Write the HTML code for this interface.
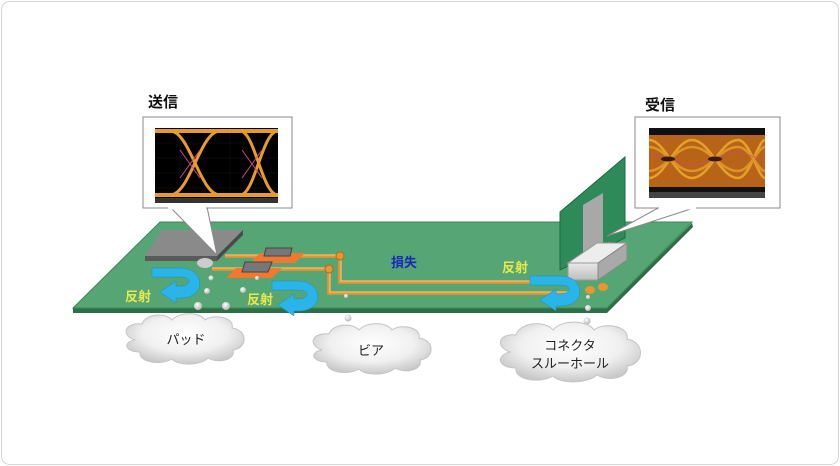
<!DOCTYPE html>
<html><head><meta charset="utf-8"><style>
body{margin:0;background:#fff;}
.wrap{position:relative;width:840px;height:466px;overflow:hidden;font-family:"Liberation Sans","Noto Sans CJK JP",sans-serif;}
</style></head><body><div class="wrap">
<svg width="840" height="466" viewBox="0 0 840 466" xmlns="http://www.w3.org/2000/svg" font-family="Liberation Sans, Noto Sans CJK JP, sans-serif">
<defs>
<radialGradient id="cl" cx="50%" cy="40%" r="60%"><stop offset="0" stop-color="#fff"/><stop offset="0.6" stop-color="#f0f0f0"/><stop offset="1" stop-color="#c8c8c8"/></radialGradient>
<radialGradient id="ball" cx="40%" cy="35%" r="60%"><stop offset="0" stop-color="#fff"/><stop offset="1" stop-color="#bbb"/></radialGradient>
<linearGradient id="blk" x1="0" y1="0" x2="0" y2="1"><stop offset="0" stop-color="#e8e8e8"/><stop offset="1" stop-color="#bdbdbd"/></linearGradient>
</defs>
<rect x="1.5" y="1.5" width="837" height="463" rx="8" fill="#fff" stroke="#d6d6d6"/>
<!-- board -->
<polygon points="73,308 607,308 607,313 73,313" fill="#2f6e46"/>
<polygon points="607,308 692,223 693,227 607,313" fill="#2f6e46"/>
<polygon points="160,222 692,222 607,308 73,308" fill="#55a674" stroke="#3d8a5a" stroke-width="1"/>
<!-- chip -->
<polygon points="162,230 243,230 217,256 145,256" fill="#8a8a8a"/>
<polygon points="145,256 217,256 217,261 145,261" fill="#5a5a5a"/>
<polygon points="217,256 243,230 243,235 217,261" fill="#4a4a4a"/>
<ellipse cx="205" cy="263" rx="8" ry="5" fill="#ccc"/>
<!-- traces -->
<g stroke="#e8962e" stroke-width="3.5" fill="none">
<path d="M225,256 L340,256 L340,282 L575,282"/>
<path d="M212,269 L329,269 L329,293 L575,293"/>
</g>
<g stroke="#f7c27a" stroke-width="1" fill="none">
<path d="M225,255 L340,255 M341,258 L341,281 M340,281 L575,281"/>
<path d="M212,268 L329,268 M330,271 L330,292 M329,292 L575,292"/>
</g>
<circle cx="340" cy="256" r="4" fill="#e8962e" stroke="#b8661a"/>
<circle cx="329" cy="269" r="4" fill="#e8962e" stroke="#b8661a"/>
<!-- SMD parts -->
<polygon points="260,253 305,253 295,263 250,263" fill="#f07830"/>
<polygon points="266,248 292,248 290,256 264,256" fill="#777" stroke="#444"/>
<polygon points="236,268 282,268 272,278 226,278" fill="#f07830"/>
<polygon points="245,262 272,262 268,272 242,272" fill="#777" stroke="#444"/>
<!-- connector card -->
<polygon points="560,212 625,157 625,238 560,270" fill="#2f8a5a" stroke="#1f6a42"/>
<polygon points="583,205 603,193 603,245 583,255" fill="#a8a8a8"/>
<line x1="603" y1="245" x2="603" y2="262" stroke="#e87a2a" stroke-width="2"/>
<line x1="609" y1="242" x2="609" y2="258" stroke="#e87a2a" stroke-width="2"/>
<polygon points="568,263 597,243 627,243 598,263" fill="#ededed" stroke="#999"/>
<polygon points="568,263 598,263 598,280 568,280" fill="url(#blk)" stroke="#999"/>
<polygon points="598,263 627,243 627,260 598,280" fill="#a9a9a9" stroke="#888"/>
<ellipse cx="590" cy="290" rx="5" ry="4" fill="#e8962e"/>
<ellipse cx="603" cy="287" rx="5" ry="4" fill="#e8962e"/>
<!-- blue arrows -->
<g fill="#2ab5ea" stroke="#1a8fc0" stroke-width="0.5">
<path d="M152,268 L180,268 C205,268 207,297 182,298 L176,298 L176,303 L160,292 L176,281 L176,286 L181,286 C192,285 192,277 180,277 L152,277 Z"/>
<path d="M272,281 L298,281 C323,281 325,310 300,311 L294,311 L294,316 L278,305 L294,294 L294,299 L299,299 C310,298 310,290 298,290 L272,290 Z"/>
<path d="M530,276 L560,276 C585,276 587,305 562,306 L556,306 L556,311 L540,300 L556,289 L556,294 L561,294 C572,293 572,285 560,285 L530,285 Z"/>
</g>
<!-- balls -->
<g fill="url(#ball)">
<circle cx="211" cy="278" r="2.5"/><circle cx="207" cy="291" r="3"/><circle cx="198" cy="306" r="4"/><circle cx="226" cy="306" r="4"/>
<circle cx="243" cy="290" r="3"/><circle cx="257" cy="278" r="2"/><circle cx="346" cy="296" r="2"/><circle cx="348" cy="318" r="3.5"/>
<circle cx="588" cy="297" r="2"/><circle cx="588" cy="308" r="3"/><circle cx="587" cy="321" r="3.5"/>
</g>
<!-- clouds -->
<g fill="url(#cl)" stroke="#c4c4c4" stroke-width="1">
<path d="M135,340 C120,335 125,322 142,324 C145,314 165,312 172,320 C180,311 200,312 205,320 C215,313 235,318 232,328 C248,330 248,348 233,350 C236,360 218,364 208,358 C200,366 178,366 172,359 C160,366 138,362 140,352 C125,352 122,342 135,340 Z"/>
<path d="M322,350 C307,345 312,332 329,334 C332,324 352,322 359,330 C367,321 387,322 392,330 C402,323 422,328 419,338 C435,340 435,358 420,360 C423,370 405,374 395,368 C387,376 365,376 359,369 C347,376 325,372 327,362 C312,362 309,352 322,350 Z"/>
<path d="M510,352 C495,347 498,333 516,335 C520,322 545,320 553,330 C562,319 588,320 594,330 C606,321 630,327 627,339 C645,342 645,364 627,366 C630,378 608,382 597,375 C587,384 560,384 553,376 C540,384 514,380 516,368 C498,368 495,356 510,352 Z"/>
</g>
<g font-size="13" fill="#222" text-anchor="middle">
<text x="186" y="344">パッド</text>
<text x="371" y="355">ビア</text>
<text x="570" y="350">コネクタ</text>
<text x="570" y="368">スルーホール</text>
</g>
<!-- labels -->
<g font-size="13" fill="#e8e84a" font-weight="bold">
<text x="125" y="301">反射</text>
<text x="247" y="304">反射</text>
<text x="502" y="272">反射</text>
</g>
<text x="391" y="267" font-size="13" fill="#1a2ab8" font-weight="bold">損失</text>
<text x="148" y="107" font-size="15" font-weight="bold" fill="#111">送信</text>
<text x="645" y="110" font-size="15" font-weight="bold" fill="#111">受信</text>
<!-- callouts -->
<polygon points="170,207 207,207 217,255" fill="#fff" stroke="#888"/>
<rect x="143" y="117" width="149" height="91" fill="#fff" stroke="#888"/>
<rect x="168" y="207.5" width="38" height="2" fill="#fff"/>
<rect x="155" y="128" width="123" height="75" fill="#000"/>
<g stroke="#1a1a1a" stroke-width="0.5"><line x1="155" y1="143" x2="278" y2="143"/><line x1="155" y1="158" x2="278" y2="158"/><line x1="155" y1="173" x2="278" y2="173"/><line x1="155" y1="188" x2="278" y2="188"/><line x1="180" y1="128" x2="180" y2="203"/><line x1="205" y1="128" x2="205" y2="203"/><line x1="230" y1="128" x2="230" y2="203"/><line x1="255" y1="128" x2="255" y2="203"/></g>
<g fill="none" stroke="#e89a2a" stroke-width="3">
<path d="M155,131 L170,131 C190,131 200,195 220,195 L240,195 C255,195 262,131 278,131"/>
<path d="M155,195 L170,195 C190,195 200,131 220,131 L240,131 C255,131 262,195 278,195"/>
<path d="M155,131 L278,131 M155,195 L278,195" stroke-width="4"/>
</g>
<g fill="none" stroke="#c84a8a" stroke-width="1"><path d="M180,150 L200,178 M200,150 L180,178 M242,150 L262,178 M262,150 L242,178"/></g>
<rect x="155" y="198" width="123" height="5" fill="#333"/>
<polygon points="660,207 697,207 607,236" fill="#fff" stroke="#888"/>
<rect x="635" y="117" width="145" height="91" fill="#fff" stroke="#888"/>
<rect x="659" y="207.5" width="37" height="2" fill="#fff"/>
<rect x="649" y="128" width="116" height="70" fill="#111"/>
<rect x="649" y="135" width="116" height="52" fill="#b86418"/>
<g fill="none" stroke="#f0b030" stroke-width="2.5" opacity="0.8">
<path d="M649,140 C665,140 675,178 692,178 C710,178 720,140 738,140 C750,140 758,178 765,178"/>
<path d="M649,178 C665,178 675,140 692,140 C710,140 720,178 738,178 C750,178 758,140 765,140"/>
<path d="M649,147 C665,147 675,171 692,171 C710,171 720,147 738,147 C750,147 758,171 765,171" stroke="#e8a028"/>
<path d="M649,171 C665,171 675,147 692,147 C710,147 720,171 738,171 C750,171 758,147 765,147" stroke="#e8a028"/>
</g>
<g fill="none" stroke="#d04a70" stroke-width="1" opacity="0.7">
<path d="M649,155 C670,155 680,165 692,165 C710,165 720,152 738,152 L765,160"/>
</g>
<ellipse cx="668" cy="159" rx="7" ry="2.5" fill="#3a1a10"/>
<ellipse cx="715" cy="159" rx="7" ry="2.5" fill="#3a1a10"/>
<rect x="649" y="192" width="116" height="6" fill="#444"/>
</svg>
</div></body></html>
